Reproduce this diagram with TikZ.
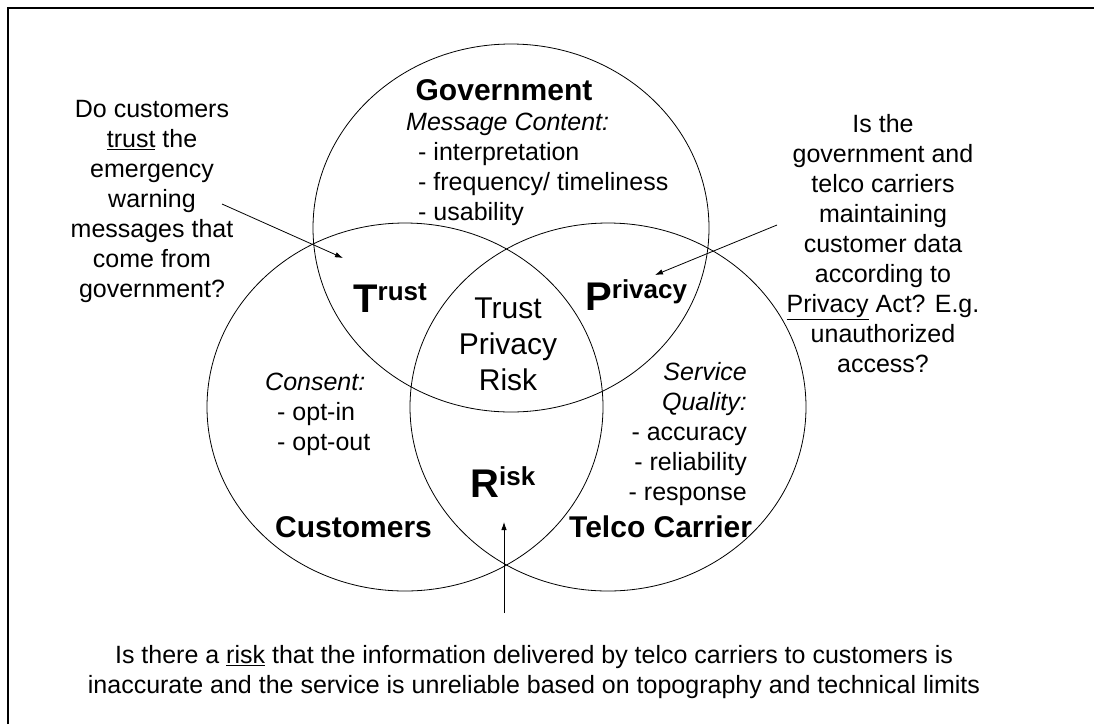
\documentclass[tikz,border=0pt]{standalone}
\usepackage{fontspec}
\setmainfont{Liberation Sans}
\usetikzlibrary{arrows.meta}

\newcommand{\bigfirst}[2]{{\fontsize{40}{40}\selectfont\bfseries #1}\raisebox{12pt}{\fontsize{26}{26}\selectfont\bfseries #2}}

\begin{document}
\begin{tikzpicture}[x=1pt, y=-1pt,
every node/.style={inner sep=0pt, font=\fontsize{25}{30}\selectfont},
ring/.style={line width=0.8pt},
title/.style={font=\fontsize{30}{36}\selectfont\bfseries},
note/.style={align=center, anchor=north},
arr/.style={line width=0.8pt, -{Latex[length=8pt,width=5.5pt]}}]
\useasboundingbox (0,0) rectangle (1094,724);
%================================================================
%	Frame
\draw[line width=2pt] (8,724) -- (8,8) -- (1094,8);

%================================================================
%	Circles
\draw[ring] (511,228) ellipse [x radius=198, y radius=184];
\draw[ring] (405,407) ellipse [x radius=198, y radius=184];
\draw[ring] (608,407) ellipse [x radius=198, y radius=184];

%================================================================
%	Nodes
\node[title, anchor=base] (gov) at (504,100) {Government};
\node[anchor=north west, align=left] (msg) at (406,113) {\textit{Message Content:}\\\hspace*{12pt}- interpretation\\\hspace*{12pt}- frequency/ timeliness\\\hspace*{12pt}- usability};

\node[anchor=north west, align=left] (consent) at (265,373) {\textit{Consent:}\\\hspace*{12pt}- opt-in\\\hspace*{12pt}- opt-out};
\node[anchor=north east, align=right] (quality) at (747,362) {\textit{Service}\\\textit{Quality:}\\- accuracy\\- reliability\\- response};

\node[title, anchor=base west] (cust) at (275,537) {Customers};
\node[title, anchor=base west] (telco) at (569,537) {Telco Carrier};

%----------------------------------------------------------------
\node[anchor=base west] (trust) at (353,312) {\bigfirst{T}{rust}};
\node[anchor=base west] (privacy) at (585,310) {\bigfirst{P}{rivacy}};
\node[anchor=base west] (risk) at (470,497) {\bigfirst{R}{isk}};
\node[note, font=\fontsize{30}{36}\selectfont] (tpr) at (508,298) {Trust\\Privacy\\Risk};

%----------------------------------------------------------------
\node[note] (trustq) at (152,100) {Do customers\\\underline{trust} the\\emergency\\warning\\messages that\\come from\\government?};
\node[note] (privq) at (883,114) {Is the\\government and\\telco carriers\\maintaining\\customer data\\according to\\\underline{Privacy} Act? E.g.\\unauthorized\\access?};
\node[note] (riskq) at (534,645) {Is there a \underline{risk} that the information delivered by telco carriers to customers is\\inaccurate and the service is unreliable based on topography and technical limits};

%================================================================
%	Lines
\coordinate (trustfrom) at (222,204);
\coordinate (trustto) at (343,258);
\coordinate (privfrom) at (777,225);
\coordinate (privto) at (655,275);
\coordinate (riskfrom) at (504,613);
\coordinate (riskto) at (504,522);

\draw[arr] (trustfrom) -- (trustto);
\draw[arr] (privfrom) -- (privto);
\draw[arr] (riskfrom) -- (riskto);
%================================================================
\end{tikzpicture}
\end{document}
